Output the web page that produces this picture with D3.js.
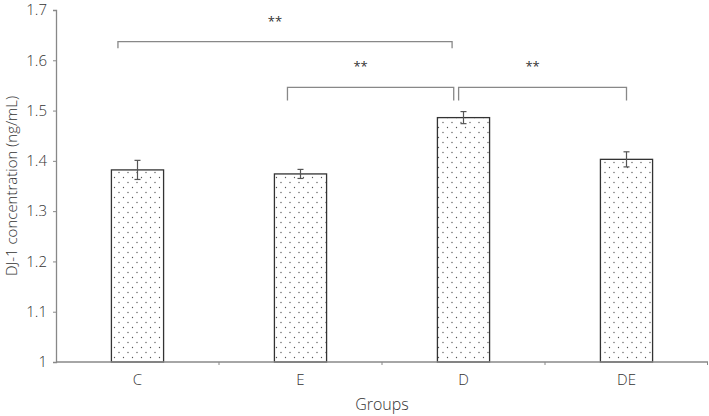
<!DOCTYPE html>
<html><head><meta charset="utf-8">
<script src="https://cdn.jsdelivr.net/npm/d3@7/dist/d3.min.js"></script>
<style>
body{margin:0;background:#fff;}
text{font-family:"Open Sans",sans-serif;font-weight:300;fill:#333;}
</style></head>
<body><svg id="c" width="709" height="416"></svg>
<script>
const categories = ["C","E","D","DE"];
const means = [1.382, 1.374, 1.486, 1.403];
const errors = [0.019, 0.009, 0.012, 0.015];
const yTicks = [1, 1.1, 1.2, 1.3, 1.4, 1.5, 1.6, 1.7];
const brackets = [
  {a:"C", b:"D", y:1.637, drop:0.013, fa:-0.12, fb:-0.07, label:"**"},
  {a:"E", b:"D", y:1.546, drop:0.026, fa:-0.08, fb:-0.06, label:"**"},
  {a:"D", b:"DE", y:1.546, drop:0.026, fa:-0.03, fb:0.0, label:"**"}
];

const svg = d3.select("#c");
const m = {l:56, r:1, t:10, b:54};
const W = 709, H = 416;
const x = d3.scaleBand().domain(categories).range([m.l, W - m.r]).paddingInner(0.68).paddingOuter(0.34);
const xb = d3.scaleBand().domain(categories).range([m.l, W - m.r]);
const y = d3.scaleLinear().domain([1, 1.7]).range([H - m.b, m.t]);

const defs = svg.append("defs");
const pat = defs.append("pattern").attr("id","dots").attr("patternUnits","userSpaceOnUse")
  .attr("width",9).attr("height",10);
pat.append("rect").attr("width",9).attr("height",10).attr("fill","#fff");
pat.append("circle").attr("cx",2).attr("cy",2.5).attr("r",0.65).attr("fill","#555");
pat.append("circle").attr("cx",6.5).attr("cy",7.5).attr("r",0.65).attr("fill","#555");

svg.selectAll("rect.bar").data(categories).enter().append("rect")
  .attr("class","bar")
  .attr("x", d => x(d)).attr("width", x.bandwidth())
  .attr("y", (d,i) => y(means[i])).attr("height", (d,i) => y(1) - y(means[i]))
  .attr("fill","url(#dots)").attr("stroke","#333").attr("stroke-width",1.3);

const eg = svg.append("g").attr("stroke","#555").attr("stroke-width",1.2);
categories.forEach((c,i) => {
  const cx = x(c) + x.bandwidth()/2;
  eg.append("line").attr("x1",cx).attr("x2",cx).attr("y1",y(means[i]+errors[i])).attr("y2",y(means[i]-errors[i]));
  eg.append("line").attr("x1",cx-3).attr("x2",cx+3).attr("y1",y(means[i]+errors[i])).attr("y2",y(means[i]+errors[i]));
  eg.append("line").attr("x1",cx-3).attr("x2",cx+3).attr("y1",y(means[i]-errors[i])).attr("y2",y(means[i]-errors[i]));
});

const yAxis = svg.append("g").attr("transform",`translate(${m.l},0)`)
  .call(d3.axisLeft(y).tickValues(yTicks).tickSize(3).tickPadding(6).tickFormat(d3.format("")));
const xAxis = svg.append("g").attr("transform",`translate(0,${y(1)})`)
  .call(d3.axisBottom(xb).tickSize(0).tickPadding(12));
[yAxis, xAxis].forEach(g => {
  g.select(".domain").attr("stroke","#888").attr("stroke-width",1.3);
  g.selectAll(".tick line").attr("stroke","#888");
  g.selectAll(".tick text").attr("font-size",15).attr("fill","#333")
   .style("font-family","'Open Sans',sans-serif").style("font-weight",300);
});
xAxis.select(".domain").attr("d",`M${m.l},0H${W-m.r}`);
svg.append("g").selectAll("line").data(categories.slice(1).concat(["end"])).enter().append("line")
  .attr("x1", d => d==="end" ? xb.range()[1]-0.5 : xb(d)).attr("x2", d => d==="end" ? xb.range()[1]-0.5 : xb(d))
  .attr("y1", y(1)).attr("y2", y(1)+3).attr("stroke","#888");

svg.append("text").attr("transform",`translate(16.5,${(y(1)+y(1.7))/2}) rotate(-90)`)
  .attr("text-anchor","middle").attr("font-size",15).text("DJ-1 concentration (ng/mL)");
svg.append("text").attr("x",(m.l+W-m.r)/2).attr("y",410).attr("text-anchor","middle")
  .attr("font-size",16).text("Groups");

const bg = svg.append("g");
brackets.forEach(b => {
  const xa = xb(b.a) + xb.bandwidth()*(0.5 + b.fa);
  const xe = xb(b.b) + xb.bandwidth()*(0.5 + b.fb);
  bg.append("path").attr("d",`M${xa},${y(b.y - b.drop)}V${y(b.y)}H${xe}V${y(b.y - b.drop)}`)
    .attr("fill","none").attr("stroke","#888").attr("stroke-width",1.3);
  bg.append("text").attr("x",(xa+xe)/2 - 10).attr("y",y(b.y)-16).attr("text-anchor","middle")
    .attr("font-size",13).attr("fill","#444").style("font-weight",400).text(b.label);
});
</script></body></html>
